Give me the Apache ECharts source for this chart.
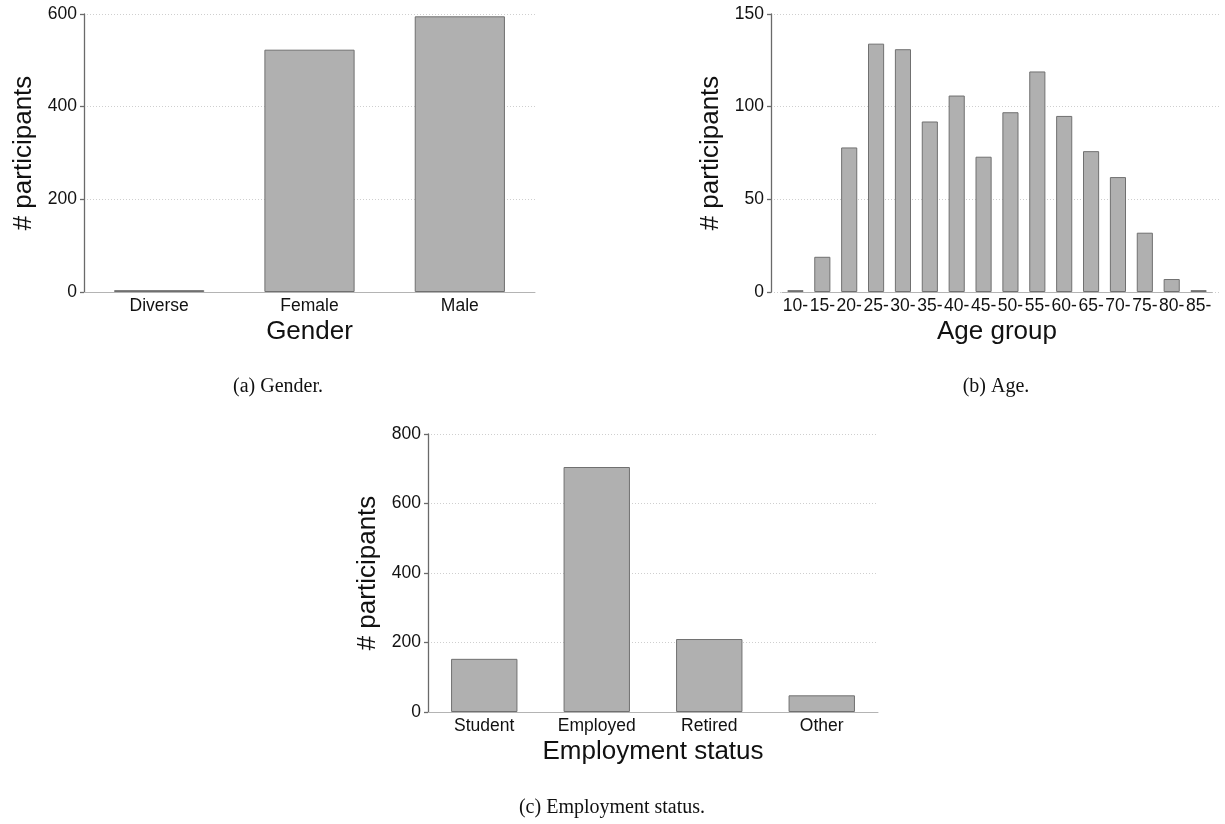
<!DOCTYPE html>
<html>
<head>
<meta charset="utf-8">
<script src="https://cdn.jsdelivr.net/npm/echarts@6/dist/echarts.min.js"></script>
<style>
html,body{margin:0;padding:0;background:#fff;}
#chart{width:1225px;height:824px;}
</style>
</head>
<body>
<div id="chart"></div>
<script>
// ---- data ----
const genderCategories = ['Diverse', 'Female', 'Male'];
const genderValues = [4, 523, 595];
const genderTicks = [0, 200, 400, 600];

const ageCategories = ['10-', '15-', '20-', '25-', '30-', '35-', '40-', '45-', '50-', '55-', '60-', '65-', '70-', '75-', '80-', '85-'];
const ageValues = [1, 19, 78, 134, 131, 92, 106, 73, 97, 119, 95, 76, 62, 32, 7, 1];
const ageTicks = [0, 50, 100, 150];

const employmentCategories = ['Student', 'Employed', 'Retired', 'Other'];
const employmentValues = [153, 705, 210, 48];
const employmentTicks = [0, 200, 400, 600, 800];

const yTitle = '# participants';
const captions = ['(a) Gender.', '(b) Age.', '(c) Employment status.'];

// ---- styling ----
const SANS = 'Liberation Sans, Arial, Helvetica, sans-serif';
const SERIF = 'Liberation Serif, Times New Roman, serif';
const axisGrey = '#6a6a6a';
const barStyle = { color: '#b0b0b0', borderColor: '#707070', borderWidth: 1 };
const TICK_FS = 17.5;
const TITLE_FS = 26;

function yAxisFull(gridIndex, ticks, name) {
  return {
    type: 'value', gridIndex: gridIndex,
    min: ticks[0], max: ticks[ticks.length - 1], interval: ticks[1] - ticks[0],
    name: name, nameLocation: 'middle', nameGap: 47, nameRotate: 90,
    nameTextStyle: { fontFamily: SANS, fontSize: TITLE_FS, color: '#111' },
    axisLine: { show: true, lineStyle: { color: axisGrey, width: 1.3 } },
    axisTick: { show: true, length: 4, lineStyle: { color: axisGrey, width: 1.3 } },
    axisLabel: { fontFamily: SANS, fontSize: TICK_FS, color: '#111', margin: 7 },
    splitLine: { show: true, lineStyle: { color: '#cfcfcf', type: [1, 2], width: 1 } }
  };
}
function yAxisHidden(gridIndex, ticks) {
  return {
    type: 'value', gridIndex: gridIndex,
    min: ticks[0], max: ticks[ticks.length - 1], interval: ticks[1] - ticks[0],
    axisLine: { show: false }, axisTick: { show: false }, axisLabel: { show: false },
    splitLine: { show: false }
  };
}
function xAxisCat(gridIndex, cats, name) {
  return {
    type: 'category', gridIndex: gridIndex, data: cats,
    name: name, nameLocation: 'middle', nameGap: 27,
    nameTextStyle: { fontFamily: SANS, fontSize: TITLE_FS, color: '#111' },
    axisLine: { show: true, lineStyle: { color: '#b4b4b4', width: 1 } },
    axisTick: { show: false },
    axisLabel: { fontFamily: SANS, fontSize: TICK_FS, color: '#111', margin: 5, interval: 0 },
    splitLine: { show: false }
  };
}

const option = {
  animation: false,
  backgroundColor: '#ffffff',
  grid: [
    { left: 84, width: 451, top: 14, height: 278 },      // gender
    { left: 771, width: 450, top: 14, height: 278 },     // age background (axis + grid lines)
    { left: 782, width: 430, top: 14, height: 278 },     // age bars
    { left: 428, width: 450, top: 434, height: 278 }     // employment
  ],
  xAxis: [
    xAxisCat(0, genderCategories, 'Gender'),
    { type: 'category', gridIndex: 1, data: [''], show: false },
    xAxisCat(2, ageCategories, 'Age group'),
    xAxisCat(3, employmentCategories, 'Employment status')
  ],
  yAxis: [
    yAxisFull(0, genderTicks, yTitle),
    yAxisFull(1, ageTicks, yTitle),
    yAxisHidden(2, ageTicks),
    yAxisFull(3, employmentTicks, yTitle)
  ],
  series: [
    { type: 'bar', xAxisIndex: 0, yAxisIndex: 0, data: genderValues, barCategoryGap: '40%', itemStyle: barStyle },
    { type: 'bar', xAxisIndex: 2, yAxisIndex: 2, data: ageValues, barCategoryGap: '40%', itemStyle: barStyle },
    { type: 'bar', xAxisIndex: 3, yAxisIndex: 3, data: employmentValues, barCategoryGap: '41%', itemStyle: barStyle }
  ],
  graphic: [
    { type: 'text', x: 278, y: 387, style: { text: captions[0], fontFamily: SERIF, fontSize: 20, fill: '#111', align: 'center', verticalAlign: 'middle' } },
    { type: 'text', x: 996, y: 387, style: { text: captions[1], fontFamily: SERIF, fontSize: 20, fill: '#111', align: 'center', verticalAlign: 'middle' } },
    { type: 'text', x: 612, y: 808, style: { text: captions[2], fontFamily: SERIF, fontSize: 20, fill: '#111', align: 'center', verticalAlign: 'middle' } }
  ]
};

const chart = echarts.init(document.getElementById('chart'), null, { renderer: 'canvas' });
chart.setOption(option);
</script>
</body>
</html>
